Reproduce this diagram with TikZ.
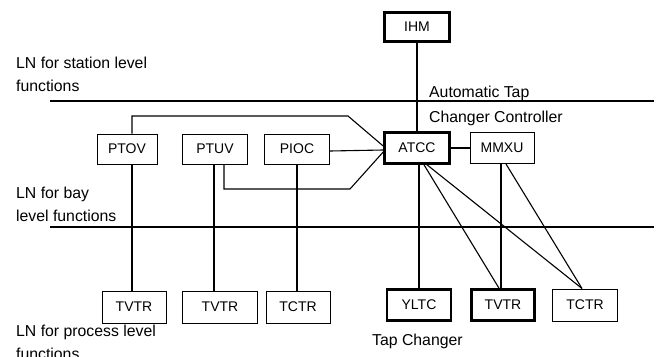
\documentclass[tikz,border=0pt]{standalone}
\usepackage{fontspec}
\setmainfont{Liberation Sans}
\begin{document}
\begin{tikzpicture}[x=1pt,y=-1pt,
  ln/.style={draw, line width=1pt, inner sep=0pt, minimum width=64pt, minimum height=31pt,
    font=\fontsize{14}{16}\selectfont},
  lnthick/.style={ln, line width=2.6pt},
  lbl/.style={anchor=north west, inner sep=0pt, align=left, font=\fontsize{15.8}{23}\selectfont},
  wire/.style={line width=1.1pt},
  sep/.style={line width=1.1pt}]
\clip (0,0) rectangle (668,356);
\fill[white] (0,0) rectangle (668,356);

% level separators
\coordinate (s1) at (50,101);
\coordinate (s2) at (654,101);
\coordinate (b1) at (50,227);
\coordinate (b2) at (654,227);
\draw[sep] (s1) -- (s2);
\draw[sep] (b1) -- (b2);

% nodes
\node[lnthick, minimum width=65pt, minimum height=29pt] (IHM) at (417,27) {IHM};
\node[ln, minimum width=60pt, minimum height=30pt] (PTOV) at (127,149) {PTOV};
\node[ln, minimum width=65pt, minimum height=30pt] (PTUV) at (215,149) {PTUV};
\node[ln, minimum width=65pt, minimum height=30pt] (PIOC) at (297,149) {PIOC};
\node[lnthick, minimum width=65pt, minimum height=31pt] (ATCC) at (417,148) {ATCC};
\node[ln, minimum width=64pt, minimum height=31pt] (MMXU) at (502,148) {MMXU};
\node[ln, minimum width=64pt, minimum height=32pt] (TVTRa) at (134,307) {TVTR};
\node[ln, minimum width=75pt, minimum height=32pt] (TVTRb) at (220,307) {TVTR};
\node[ln, minimum width=64pt, minimum height=32pt] (TCTRa) at (298,307) {TCTR};
\node[lnthick, minimum width=64pt, minimum height=31pt] (YLTC) at (419,305) {YLTC};
\node[lnthick, minimum width=63pt, minimum height=31pt] (TVTRc) at (503,305) {TVTR};
\node[ln, minimum width=65pt, minimum height=32pt] (TCTRb) at (585,305) {TCTR};

% labels
\node[lbl] (lstation) at (16,57) {LN for station level\\functions};
\node[lbl] (lbay) at (16,187) {LN for bay\\level functions};
\node[lbl] (lproc) at (16,325) {LN for process level\\functions};
\node[lbl, font=\fontsize{15.8}{25}\selectfont] (latcc) at (429,86) {Automatic Tap\\Changer Controller};
\node[lbl] (lyltc) at (372,334) {Tap Changer};

% connectors
\draw[wire] (IHM) -- (ATCC);
\draw[wire] ([xshift=5pt]PTOV.north) |- (348,116) -- ([yshift=2pt]ATCC.west);
\draw[wire] ([yshift=-2pt]PIOC.east) -- ([yshift=-2pt]ATCC.west);
\draw[wire] ([xshift=9pt]PTUV.south) |- (350,189) -- ([yshift=-4pt]ATCC.west);
\draw[wire] (ATCC) -- (MMXU);
\draw[wire] ([xshift=5pt]PTOV.south) -- ([xshift=-2pt]TVTRa.north);
\draw[wire] ([xshift=-1pt]PTUV.south) -- ([xshift=-6pt]TVTRb.north);
\draw[wire] (PIOC.south) -- ([xshift=-1pt]TCTRa.north);
\draw[wire] ([xshift=2pt]ATCC.south) -- (YLTC.north);
\draw[wire] ([xshift=7pt]ATCC.south) -- ([xshift=-4pt]TVTRc.north);
\draw[wire] ([xshift=10pt]ATCC.south) -- ([xshift=-3pt]TCTRb.north);
\draw[wire] ([xshift=-1pt]MMXU.south) -- ([xshift=-2pt]TVTRc.north);
\draw[wire] ([xshift=4pt]MMXU.south) -- ([xshift=-3pt]TCTRb.north);
\end{tikzpicture}
\end{document}
